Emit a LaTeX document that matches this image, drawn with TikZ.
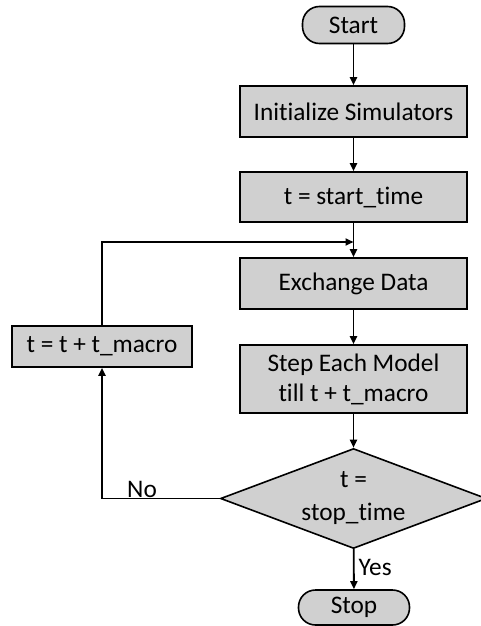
\documentclass[tikz,border=0pt]{standalone}
\usepackage{fontspec}
\setmainfont{Carlito}[Ligatures=NoCommon]
\usetikzlibrary{shapes.geometric,arrows.meta}
\definecolor{boxgray}{HTML}{D0D0D0}
\tikzset{
  txt/.style={font=\fontsize{25.3}{30}\selectfont},
  procbox/.style={txt, draw=black, line width=1.6pt, fill=boxgray, minimum width=227pt, inner sep=0pt, align=center},
  term/.style={txt, draw=black, line width=1.6pt, fill=boxgray, rounded corners=17pt, inner sep=0pt},
  decision/.style={txt, draw=black, line width=1.6pt, fill=boxgray, diamond, aspect=2.66, inner sep=0pt, align=center},
  flow/.style={line width=1.8pt, -{Triangle[length=8pt,width=7pt]}},
  lbl/.style={txt, inner sep=0pt}
}
\begin{document}
\begin{tikzpicture}[x=1pt,y=-1pt]
\useasboundingbox (0,0) rectangle (481,626);
\node[term, minimum width=102pt, minimum height=37pt] (start) at (353.5,25) {Start};
\node[procbox, minimum height=51pt] (init) at (353.5,111.5) {Initialize Simulators};
\node[procbox, minimum height=50pt] (tstart) at (353.5,197) {t = start\_time};
\node[procbox, minimum height=51pt] (exch) at (353.5,283.5) {Exchange Data};
\node[procbox, minimum height=68pt] (step) at (353.5,379) {Step Each Model\\till t + t\_macro};
\node[procbox, minimum width=180pt, minimum height=41pt] (incr) at (102,346.5) {t = t + t\_macro};
\node[decision, minimum width=266pt, minimum height=100pt] (dec) at (353.5,498.5) {t =\\[3pt]stop\_time};
\node[term, minimum width=111pt, minimum height=35pt] (stop) at (354,607.5) {Stop};
\coordinate (join) at (353.5,242);
\coordinate (corner) at (102,242);
\coordinate (nocorner) at (102,498.5);
\draw[flow] (start) -- (init);
\draw[flow] (init) -- (tstart);
\draw[flow] (tstart) -- (exch);
\draw[flow] (exch) -- (step);
\draw[flow] (step) -- (dec);
\draw[flow] (dec) -- node[lbl, right=4pt, pos=0.45] {Yes} (stop);
\draw[flow] (dec.west) -- (nocorner) -- (incr.south);
\draw[flow] (incr.north) -- (corner) -- (join);
\node[lbl] (nolbl) at (142,489) {No};
\end{tikzpicture}
\end{document}
